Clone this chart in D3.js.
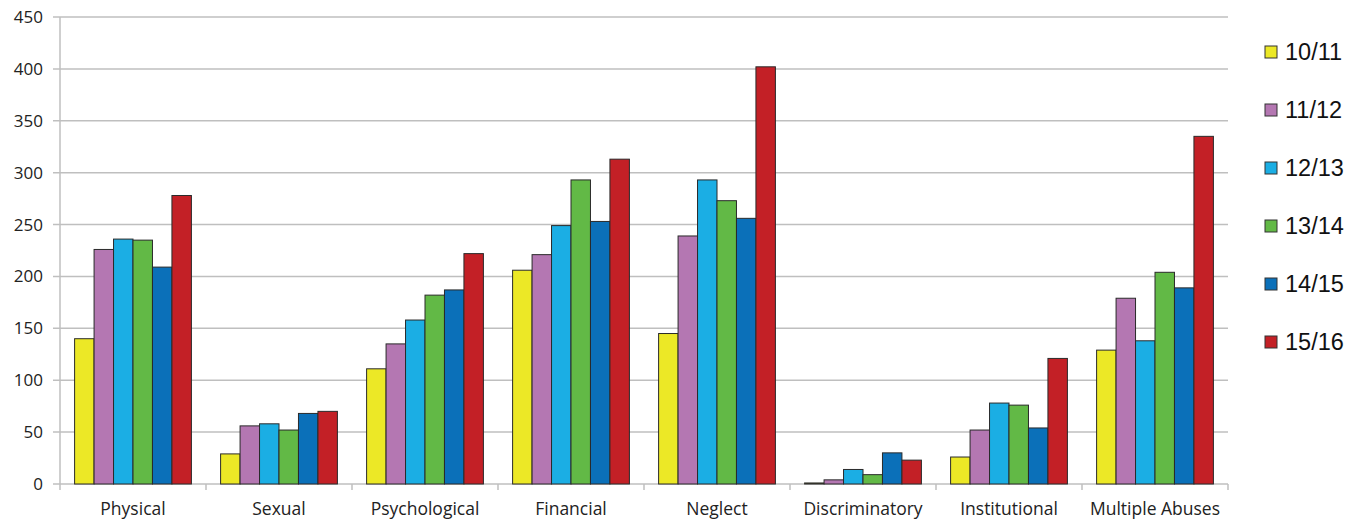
<!DOCTYPE html>
<html>
<head>
<meta charset="utf-8">
<script src="https://cdn.jsdelivr.net/npm/d3@7"></script>
<style>
  html, body { margin: 0; padding: 0; background: #fff; }
  svg { display: block; }
</style>
</head>
<body>
<svg id="chart" width="1361" height="524"></svg>
<script>
// Abuse categories and reporting years
const categories = ["Physical", "Sexual", "Psychological", "Financial", "Neglect", "Discriminatory", "Institutional", "Multiple Abuses"];
const years = ["10/11", "11/12", "12/13", "13/14", "14/15", "15/16"];
const colors = ["#ECE826", "#B477B2", "#1BAEE4", "#62B946", "#0B70B9", "#C32026"];

// Values per year, one entry per category
const y1011 = [140, 29, 111, 206, 145, 1, 26, 129];
const y1112 = [226, 56, 135, 221, 239, 4, 52, 179];
const y1213 = [236, 58, 158, 249, 293, 14, 78, 138];
const y1314 = [235, 52, 182, 293, 273, 9, 76, 204];
const y1415 = [209, 68, 187, 253, 256, 30, 54, 189];
const y1516 = [278, 70, 222, 313, 402, 23, 121, 335];
const series = [y1011, y1112, y1213, y1314, y1415, y1516];

const yTicks = [0, 50, 100, 150, 200, 250, 300, 350, 400, 450];

const svg = d3.select("#chart");
const plotLeft = 60, plotRight = 1228, plotTop = 17, plotBottom = 484;

const x = d3.scaleBand().domain(categories).range([plotLeft, plotRight]).paddingInner(0).paddingOuter(0);
const xInner = d3.scaleBand().domain(years).range([0, x.bandwidth()]).paddingOuter(0.75).paddingInner(0);
const y = d3.scaleLinear().domain([0, 450]).range([plotBottom, plotTop]);

// Horizontal gridlines with short left ticks
const grid = svg.append("g");
grid.selectAll("line").data(yTicks).join("line")
  .attr("x1", plotLeft - 7).attr("x2", plotRight)
  .attr("y1", d => y(d)).attr("y2", d => y(d))
  .attr("stroke", "#bfbfbf").attr("stroke-width", 1.5);

// Y axis labels
const yAxis = svg.append("g").attr("transform", `translate(${plotLeft},0)`)
  .call(d3.axisLeft(y).tickValues(yTicks).tickSize(0).tickPadding(17));
yAxis.select(".domain").remove();
yAxis.selectAll("text")
  .attr("font-family", "'Open Sans', 'Liberation Sans', sans-serif")
  .attr("font-size", 17).attr("fill", "#222");

// Vertical axis line
svg.append("line").attr("x1", plotLeft).attr("x2", plotLeft).attr("y1", plotTop).attr("y2", plotBottom + 6)
  .attr("stroke", "#bfbfbf").attr("stroke-width", 1.5);

// Category separator ticks
const bounds = categories.map(c => x(c)).concat([plotRight]);
svg.append("g").selectAll("line").data(bounds.slice(1)).join("line")
  .attr("x1", d => d).attr("x2", d => d).attr("y1", plotBottom).attr("y2", plotBottom + 6)
  .attr("stroke", "#bfbfbf").attr("stroke-width", 1.5);

// Bars
const groups = svg.append("g").selectAll("g").data(categories).join("g")
  .attr("transform", c => `translate(${x(c)},0)`);
groups.selectAll("rect")
  .data((c, ci) => years.map((yr, si) => ({ yr, si, v: series[si][ci] })))
  .join("rect")
  .attr("x", d => xInner(d.yr))
  .attr("width", xInner.bandwidth())
  .attr("y", d => y(d.v))
  .attr("height", d => y(0) - y(d.v))
  .attr("fill", d => colors[d.si])
  .attr("stroke", "#2a2a2a").attr("stroke-width", 1);

// Category labels
svg.append("g").attr("transform", `translate(0,${plotBottom})`)
  .call(d3.axisBottom(x).tickSize(0).tickPadding(19))
  .call(g => g.select(".domain").remove())
  .selectAll("text")
  .attr("font-family", "'Open Sans', 'Liberation Sans', sans-serif")
  .attr("font-size", 17.5).attr("fill", "#222");

// Legend
const legend = svg.append("g").attr("transform", "translate(1265,0)");
const legendY = d3.scalePoint().domain(years).range([52, 342]);
const items = legend.selectAll("g").data(years).join("g")
  .attr("transform", d => `translate(0,${legendY(d)})`);
items.append("rect").attr("x", 0).attr("y", -6).attr("width", 12).attr("height", 12)
  .attr("fill", (d, i) => colors[i]).attr("stroke", "#333").attr("stroke-width", 1);
items.append("text").attr("x", 20).attr("y", 0).attr("dy", "0.36em")
  .attr("font-family", "'Liberation Sans', Arial, sans-serif")
  .attr("font-size", 23.5).attr("fill", "#111").text(d => d);
</script>
</body>
</html>
